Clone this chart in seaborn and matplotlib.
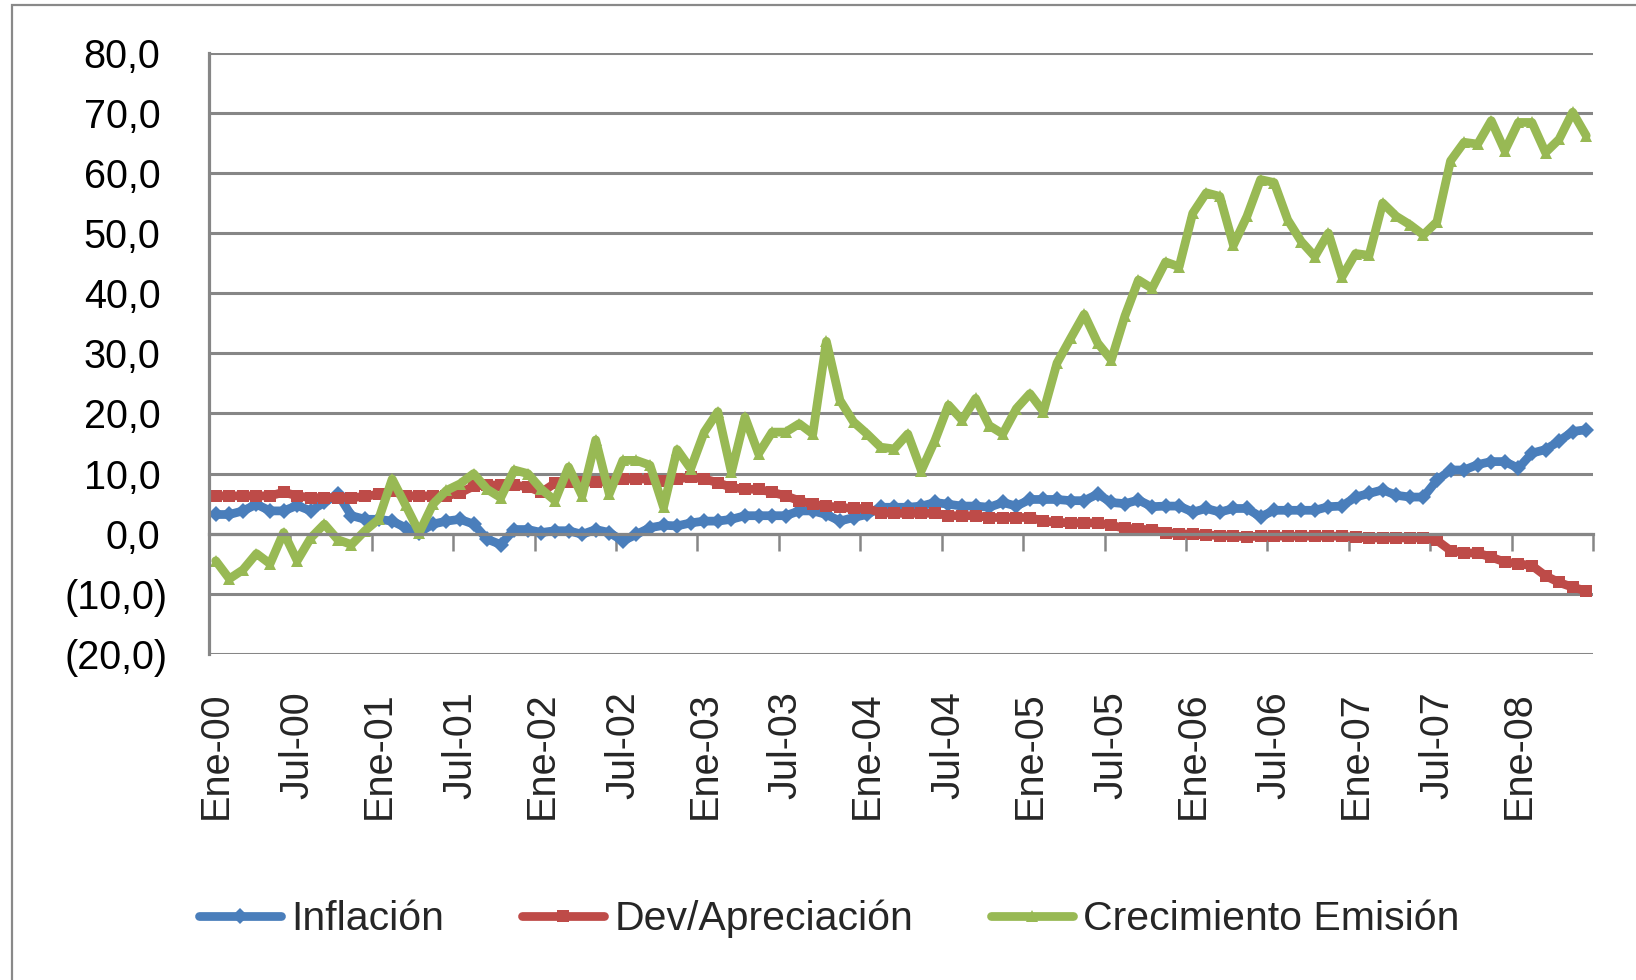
import numpy as np
import pandas as pd
import matplotlib
matplotlib.use("Agg")
import matplotlib.pyplot as plt
from matplotlib.ticker import FixedLocator, FuncFormatter
from matplotlib.patches import Rectangle
from matplotlib.transforms import ScaledTranslation
import seaborn as sns

# ---------------- data ----------------
months = pd.date_range("2000-01-01", periods=102, freq="MS")
esp = ["Ene", "Feb", "Mar", "Abr", "May", "Jun", "Jul", "Ago", "Sep", "Oct", "Nov", "Dic"]
month_labels = [f"{esp[d.month - 1]}-{d.year % 100:02d}" for d in months]

inflacion = [3.2, 3.2, 3.8, 4.9, 3.8, 3.8, 4.7, 3.8, 5.2, 6.6, 3.0, 2.4, 2.4, 2.1, 1.0, 0.2, 1.6, 2.1,
             2.4, 1.6, -0.9, -1.8, 0.7, 0.7, 0.2, 0.5, 0.5, -0.1, 0.7, 0.2, -1.2, -0.1, 1.0, 1.4,
             1.3, 1.8, 2.1, 2.1, 2.4, 3.0, 3.0, 3.0, 3.0, 3.8, 3.8, 3.2, 2.1, 2.7, 3.2, 4.4, 4.4,
             4.4, 4.6, 5.2, 4.9, 4.6, 4.6, 4.4, 5.2, 4.6, 5.7, 5.7, 5.7, 5.5, 5.5, 6.6, 5.2, 5.0,
             5.6, 4.5, 4.6, 4.6, 3.6, 4.2, 3.6, 4.2, 4.2, 2.8, 3.9, 3.9, 3.9, 3.9, 4.5, 4.6, 6.1,
             6.7, 7.3, 6.4, 6.1, 6.1, 8.9, 10.6, 10.6, 11.5, 12.0, 12.0, 10.9, 13.4, 14.0, 15.4,
             17.0, 17.3]
devaluacion = [6.3, 6.3, 6.3, 6.3, 6.3, 6.9, 6.3, 6.0, 6.0, 6.0, 6.0, 6.2, 6.6, 7.1, 6.3, 6.3, 6.3,
               6.3, 6.8, 7.9, 8.1, 8.1, 8.1, 7.8, 6.9, 8.4, 8.6, 8.6, 8.6, 8.6, 9.1, 9.1, 9.1, 8.8,
               9.1, 9.4, 9.1, 8.5, 7.7, 7.4, 7.4, 6.9, 6.3, 5.5, 4.9, 4.6, 4.4, 4.2, 4.2, 3.5, 3.4,
               3.4, 3.4, 3.4, 3.0, 3.0, 3.0, 2.7, 2.7, 2.7, 2.7, 2.1, 1.9, 1.8, 1.8, 1.8, 1.4, 0.9,
               0.8, 0.6, 0.2, 0.0, -0.1, -0.2, -0.3, -0.4, -0.5, -0.4, -0.4, -0.4, -0.4, -0.4,
               -0.4, -0.4, -0.6, -0.7, -0.7, -0.7, -0.7, -0.7, -1.1, -2.8, -3.2, -3.2, -3.9, -4.7,
               -5.0, -5.3, -7.0, -8.1, -8.9, -9.5]
emision = [-4.5, -7.5, -6.0, -3.3, -5.0, 0.2, -4.5, -0.7, 1.6, -1.0, -1.8, 0.5, 2.4, 9.1, 4.7, 0.2,
           4.9, 7.2, 8.3, 10.0, 7.4, 6.0, 10.6, 10.0, 7.4, 5.5, 11.1, 6.3, 15.6, 6.6, 12.2, 12.2,
           11.4, 4.4, 14.0, 10.8, 16.9, 20.3, 10.2, 19.4, 13.3, 16.9, 16.9, 18.3, 16.6, 32.0, 22.2,
           18.6, 16.6, 14.4, 14.1, 16.6, 10.5, 15.5, 21.4, 18.9, 22.5, 18.0, 16.6, 20.8, 23.3, 20.3,
           28.4, 32.5, 36.5, 31.7, 28.9, 36.2, 42.2, 40.8, 45.2, 44.4, 53.3, 56.7, 56.1, 48.0, 52.8,
           58.9, 58.4, 52.2, 48.6, 46.1, 50.0, 42.7, 46.6, 46.3, 55.0, 52.8, 51.4, 49.7, 51.9, 62.0,
           65.1, 64.8, 68.7, 63.7, 68.4, 68.4, 63.4, 65.6, 70.1, 66.2]

series_names = ["Inflación", "Dev/Apreciación", "Crecimiento Emisión"]
colors = ["#4A7EBB", "#BE4B48", "#98B954"]
y_ticks = [-20, -10, 0, 10, 20, 30, 40, 50, 60, 70, 80]

df = pd.DataFrame({
    "pos": list(range(len(months))) * 3,
    "valor": inflacion + devaluacion + emision,
    "serie": [series_names[0]] * len(months) + [series_names[1]] * len(months)
             + [series_names[2]] * len(months),
})

# ---------------- style ----------------
sns.set_theme(style="white")
plt.rcParams["font.family"] = ["Liberation Sans", "DejaVu Sans"]
GRAY = "#868686"
LW = 6.3

fig = plt.figure(figsize=(16.36, 9.8), dpi=100)
ax = fig.add_axes([209 / 1636, (980 - 654) / 980, (1593 - 209) / 1636, (654 - 52.7) / 980])

sns.lineplot(data=df, x="pos", y="valor", hue="serie", style="serie",
             hue_order=series_names, style_order=series_names,
             palette=dict(zip(series_names, colors)),
             markers=dict(zip(series_names, ["D", "s", "^"])), dashes=False,
             linewidth=LW, markersize=8.5, markeredgewidth=0, ax=ax)
for ln in ax.lines:
    ln.set_solid_joinstyle("round")
    ln.set_solid_capstyle("round")

ax.set_xlim(-0.5, len(months) - 0.5)
ax.set_ylim(-20, 80)
ax.set_xlabel("")
ax.set_ylabel("")

# y axis
ax.set_yticks(y_ticks)
def fmt(v, _):
    s = f"{abs(v):.1f}".replace(".", ",")
    return f"({s})" if v < 0 else s
ax.yaxis.set_major_formatter(FuncFormatter(fmt))
ax.tick_params(axis="y", length=9.5, width=1.8, color=GRAY, direction="out",
               pad=20.5, labelsize=28.5, labelcolor="black")
# positive labels leave room for the closing parenthesis (accounting format)
for tick, val in zip(ax.yaxis.get_major_ticks(), y_ticks):
    if val >= 0:
        lab = tick.label1
        lab.set_transform(lab.get_transform() + ScaledTranslation(-7 / 100, 0, fig.dpi_scale_trans))
ax.grid(axis="y", color=GRAY, linewidth=2.2)
ax.grid(axis="x", visible=False)
ax.set_axisbelow(True)

# spines
for s in ["top", "right"]:
    ax.spines[s].set_visible(False)
ax.spines["left"].set_color(GRAY)
ax.spines["left"].set_linewidth(2.3)
ax.spines["bottom"].set_position(("data", 0))
ax.spines["bottom"].set_color(GRAY)
ax.spines["bottom"].set_linewidth(2.3)

# x tick marks on zero axis (every 6 categories), labels at the bottom
ax.set_xticks([])
ax.xaxis.set_minor_locator(FixedLocator(np.arange(-0.5, len(months), 6)))
ax.tick_params(axis="x", which="minor", length=12, width=1.8, color=GRAY,
               direction="out", bottom=True, labelbottom=False)

lab_pos = list(range(0, len(months), 6))
sec = ax.secondary_xaxis("bottom")
sec.set_xticks(lab_pos, labels=[month_labels[i] for i in lab_pos])
sec.tick_params(length=0, pad=27, labelsize=28.5, labelrotation=90)
sec.spines["bottom"].set_visible(False)

# legend
sns.move_legend(ax, "center", bbox_to_anchor=(0.507, 0.062), bbox_transform=fig.transFigure,
                ncol=3, frameon=False, title=None, fontsize=29.5, handlelength=2.0,
                handletextpad=0.25, columnspacing=1.9)
leg = ax.get_legend()
for h in leg.legend_handles:
    h.set_linewidth(LW)
    h.set_markersize(8.5)

# chart-area border
fig.patches.append(Rectangle((12 / 1636, -0.05), 1.2, 975 / 980 + 0.05,
                             transform=fig.transFigure, fill=False, ec="#898989", lw=1.6))

fig.savefig("out.png", dpi=100)
